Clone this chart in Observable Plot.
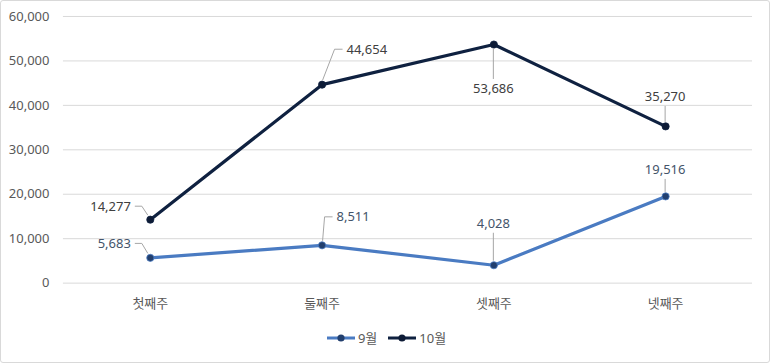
<!DOCTYPE html>
<html><head><meta charset="utf-8">
<script src="https://cdn.jsdelivr.net/npm/d3@7"></script>
<script src="https://cdn.jsdelivr.net/npm/@observablehq/plot@0.6"></script>
<style>
html,body{margin:0;padding:0;background:#fff;}
#wrap{position:relative;width:768px;height:361px;border:1px solid #d9d9d9;border-radius:3px;overflow:hidden;font-family:"Noto Sans","Noto Sans CJK KR",sans-serif;}
#chart{position:absolute;left:-1px;top:-1px;}
#legend{position:absolute;top:327px;left:0;width:770px;display:flex;justify-content:center;gap:10px;font-size:13px;color:#595959;}
.item{display:flex;align-items:center;gap:2px;}
</style></head>
<body><div id="wrap"><div id="chart"></div><div id="legend"></div></div>
<script>
const weeks = ["첫째주", "둘째주", "셋째주", "넷째주"];
const sep = [5683, 8511, 4028, 19516];
const oct = [14277, 44654, 53686, 35270];
const seriesNames = ["9월", "10월"];
const yTicks = [0, 10000, 20000, 30000, 40000, 50000, 60000];

const colors = {"9월": "#4a7bc2", "10월": "#0f2140"};
const markerFill = {"9월": "#223f6e", "10월": "#0d1b36"};
const labelColor = {"9월": "#44546a", "10월": "#404040"};
// label placement (pixel offsets from point): [dx, dy, anchor]
const labelPos = {
  "9월": [[-19,-14,"end"],[15,-28,"start"],[0,-41,"middle"],[0,-26,"middle"]],
  "10월": [[-19,-13,"end"],[25,-35,"start"],[0,44,"middle"],[0,-29,"middle"]]
};

const data = [];
weeks.forEach((w,i)=>{ data.push({week:w, series:"9월", value:sep[i], i}); });
weeks.forEach((w,i)=>{ data.push({week:w, series:"10월", value:oct[i], i}); });

const fmt = d3.format(",");

function labels(index, scales){
  const g = d3.create("svg:g");
  for (const d of data){
    const px = scales.x(d.week), py = scales.y(d.value);
    const [dx,dy,anchor] = labelPos[d.series][d.i];
    const tx = px+dx, ty = py+dy;
    let path;
    if (anchor === "middle"){
      const y0 = dy<0 ? py-4 : py+4;
      const y1 = dy<0 ? ty+9 : ty-9;
      path = `M${px},${y0}L${px},${y1}`;
    } else if (anchor === "start"){
      path = `M${px+1},${py-4}L${tx-12},${ty}L${tx-4},${ty}`;
    } else {
      path = `M${px-2},${py-4}L${tx+11},${ty}L${tx+4},${ty}`;
    }
    g.append("path").attr("d",path).attr("fill","none").attr("stroke","#a6a6a6").attr("stroke-width",1);
    g.append("text").attr("x",tx).attr("y",ty).attr("dy","0.35em").attr("text-anchor",anchor)
      .style("font-size","13px").attr("fill",labelColor[d.series]).text(fmt(d.value));
  }
  return g.node();
}

const plot = Plot.plot({
  width: 770, height: 322,
  marginLeft: 63, marginRight: 17, marginTop: 16, marginBottom: 39,
  style: {fontFamily: '"Noto Sans","Noto Sans CJK KR",sans-serif', fontSize: "13px", color: "#595959", background: "transparent"},
  x: {type: "point", domain: weeks, padding: 0.5, label: null, tickSize: 0, tickPadding: 16},
  y: {domain: [0, 60000], ticks: yTicks, label: null, tickSize: 0, tickPadding: 14, tickFormat: d3.format(",")},
  marks: [
    Plot.gridY(yTicks, {stroke: "#d9d9d9", strokeOpacity: 1}),
    Plot.axisY({ticks: yTicks, tickSize: 0, tickPadding: 14, tickFormat: d3.format(","), fontSize: 13}),
    Plot.axisX({tickSize: 0, tickPadding: 16, fontSize: 13}),
    Plot.line(data, {x: "week", y: "value", z: "series", stroke: d=>colors[d.series], strokeWidth: 3.2, strokeLinejoin: "round"}),
    Plot.dot(data, {x: "week", y: "value", r: 3.6, fill: d=>markerFill[d.series], stroke: d=>colors[d.series], strokeWidth: 0.8}),
    labels
  ]
});
d3.select(plot).selectAll("text").style("font-size", "13px");
d3.select(plot).selectAll("g[aria-label$='tick label']").attr("fill", "#595959");
document.getElementById("chart").appendChild(plot);

const legend = document.getElementById("legend");
for (const s of seriesNames){
  const it = document.createElement("div"); it.className = "item";
  it.innerHTML = `<svg width="30" height="10"><line x1="1" x2="29" y1="5" y2="5" stroke="${colors[s]}" stroke-width="3"/><circle cx="15" cy="5" r="3.6" fill="${markerFill[s]}"/></svg><span>${s}</span>`;
  legend.appendChild(it);
}
</script></body></html>
